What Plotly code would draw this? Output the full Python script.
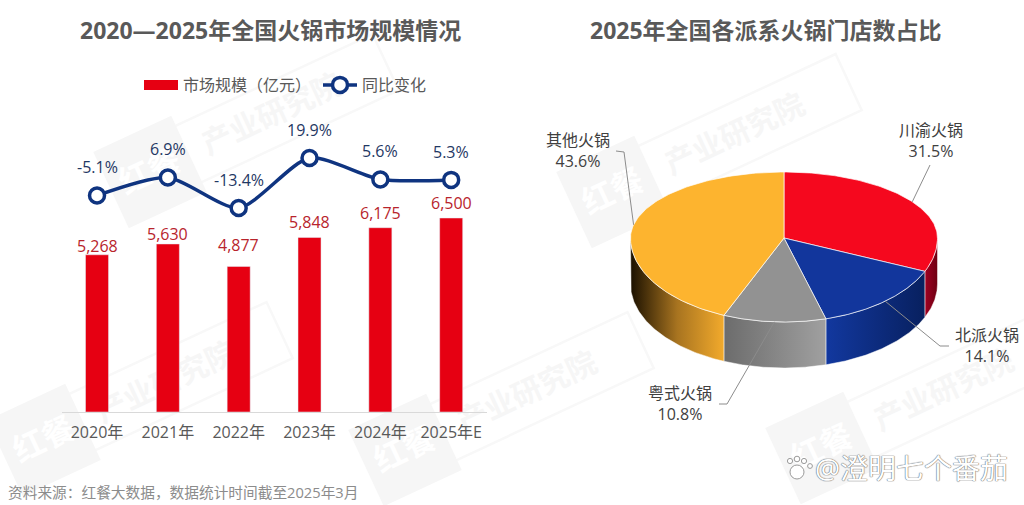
import numpy as np
import plotly.graph_objects as go

# ---------- data ----------
years = ["2020年", "2021年", "2022年", "2023年", "2024年", "2025年E"]
market_size = [5268, 5630, 4877, 5848, 6175, 6500]
yoy_change = [-5.1, 6.9, -13.4, 19.9, 5.6, 5.3]

pie_names = ["川渝火锅", "北派火锅", "粤式火锅", "其他火锅"]
pie_values = [31.5, 14.1, 10.8, 43.6]

title_left = "2020—2025年全国火锅市场规模情况"
title_right = "2025年全国各派系火锅门店数占比"
source_note = "资料来源：红餐大数据，数据统计时间截至2025年3月"

# ---------- style / layout ----------
W, H = 1024, 505
FONT = "Open Sans, Noto Sans CJK SC, sans-serif"
RED, NAVY = "#E60012", "#0F3480"
GREY_TXT = "#595959"
top_colors = ["#F5081E", "#12369C", "#929292", "#FDB42F"]
wall_scales = [
    [[0, "#A00022"], [1, "#6E0012"]],
    [[0, "#12389F"], [1, "#08205F"]],
    [[0, "#6C6C6C"], [1, "#A0A0A0"]],
    [[0, "#1A1000"], [0.5, "#A87420"], [1, "#F2AA2C"]],
]
CX, CY, RX, RY_UP, RY_DOWN, DEPTH = 784, 238, 153.5, 66, 84, 46
bar_label_gaps = [9, 10, 21, 15, 15, 15]


def px(x):
    return x / W


def py(y):
    return 1 - y / H


fig = go.Figure()

# ---------- left chart ----------
# legend entry drawn as a wide red band, as in the reference's legend
fig.add_trace(go.Scatter(
    x=[None], y=[None], name="市场规模（亿元）", mode="lines",
    line=dict(color=RED, width=12), hoverinfo="skip",
))
fig.add_trace(go.Bar(
    x=years, y=market_size, name="市场规模（亿元）", marker_color=RED, showlegend=False,
    width=0.325, hoverinfo="skip",
))
fig.add_trace(go.Scatter(
    x=years, y=yoy_change, yaxis="y2", name="同比变化", mode="lines+markers",
    line=dict(color=NAVY, width=3.5, shape="spline", smoothing=0.7),
    marker=dict(size=15, color="white", line=dict(color=NAVY, width=3.5)),
    hoverinfo="skip",
))

# ---------- 3-D looking pie, computed from pie_values ----------


def arc(a0, a1, n=80):
    a = np.radians(np.linspace(a0, a1, n))
    c = np.cos(a)
    return CX + RX * np.sin(a), CY - np.where(c > 0, RY_UP, RY_DOWN) * c


edges = np.concatenate([[0], np.cumsum(pie_values) / sum(pie_values) * 360])
for i in range(len(pie_values)):
    a0, a1 = max(edges[i], 90), min(edges[i + 1], 270)
    if a1 > a0:
        xs, ys = arc(a0, a1)
        fig.add_trace(go.Scatter(
            x=np.r_[xs, xs[::-1], xs[0]], y=np.r_[ys, ys[::-1] + DEPTH, ys[0]],
            xaxis="x3", yaxis="y3", mode="lines", fill="toself",
            line=dict(color="rgba(255,255,255,0.7)", width=0.7),
            fillgradient=dict(type="horizontal", colorscale=wall_scales[i]),
            showlegend=False, hoverinfo="skip",
        ))
for i, name in enumerate(pie_names):
    xs, ys = arc(edges[i], edges[i + 1], 120)
    fig.add_trace(go.Scatter(
        x=np.r_[CX, xs, CX], y=np.r_[CY, ys, CY], xaxis="x3", yaxis="y3",
        mode="lines", fill="toself", fillcolor=top_colors[i], name=name,
        line=dict(color="rgba(255,255,255,0.85)", width=0.8),
        showlegend=False, hoverinfo="skip",
    ))

# leader lines: from each slice's middle to its label
leader_tails = [[(930, 165)], [(940, 346), (949, 346)], [(727, 404), (719, 404)], [(624, 152), (616, 151)]]
label_centers = [(931, 140), (987, 345), (680, 403.5), (578, 150)]
for i, name in enumerate(pie_names):
    mx, my = arc((edges[i] + edges[i + 1]) / 2, (edges[i] + edges[i + 1]) / 2, 1)
    tx, ty = zip(*leader_tails[i])
    fig.add_trace(go.Scatter(
        x=[mx[0], *tx], y=[my[0], *ty], xaxis="x3", yaxis="y3", mode="lines",
        line=dict(color="#8C8C8C", width=1), showlegend=False, hoverinfo="skip",
    ))

# ---------- annotations ----------
annotations = [
    dict(text=f"<b>{title_left}</b>", x=px(270), y=py(30), xref="paper", yref="paper", showarrow=False,
         xanchor="center", yanchor="middle", font=dict(size=23, color=GREY_TXT, family=FONT)),
    dict(text=f"<b>{title_right}</b>", x=px(766), y=py(30), xref="paper", yref="paper", showarrow=False,
         xanchor="center", yanchor="middle", font=dict(size=23, color=GREY_TXT, family=FONT)),
    dict(text=source_note, x=px(6), y=py(492), xref="paper", yref="paper", showarrow=False,
         xanchor="left", yanchor="middle", font=dict(size=14.7, color="#8C8C8C", family=FONT)),
]
for yr, v, gap in zip(years, market_size, bar_label_gaps):
    annotations.append(dict(text=f"{v:,}", x=yr, y=v, xref="x", yref="y", yshift=gap,
                            showarrow=False, yanchor="middle",
                            font=dict(size=16, color="#B8242C", family=FONT)))
for yr, v in zip(years, yoy_change):
    annotations.append(dict(text=f"{v:.1f}%", x=yr, y=v, xref="x", yref="y2", yshift=28,
                            showarrow=False, yanchor="middle",
                            font=dict(size=16, color="#1F3864", family=FONT)))
for name, v, (lx, ly) in zip(pie_names, pie_values, label_centers):
    annotations.append(dict(text=f"{name}<br>{v}%", x=lx, y=ly, xref="x3", yref="y3", showarrow=False,
                            font=dict(size=16, color="#404040", family=FONT)))
annotations.append(dict(text="@澄明七个番茄", x=px(813), y=py(468), xref="paper", yref="paper", xanchor="left",
                        yanchor="middle", showarrow=False,
                        font=dict(size=28, color="#FFFFFF", family=FONT,
                                  shadow="0 0 1px #777, 0 0 1px #777, 0 0 1px #777")))


# ---------- faint background stamps ----------
def rotated(cx, cy, w, h, deg=-25):
    t = np.radians(deg)
    pts = [(-w / 2, -h / 2), (w / 2, -h / 2), (w / 2, h / 2), (-w / 2, h / 2)]
    return "M" + " L".join(
        f"{px(cx + a * np.cos(t) - b * np.sin(t)):.4f},{py(cy + a * np.sin(t) + b * np.cos(t)):.4f}" for a, b in pts
    ) + " Z"


stamp_anchors = [(150, 172), (44, 440), (405, 450), (613, 192), (822, 448)]
shapes = []
for sx, sy in stamp_anchors:
    t = np.radians(-25)
    bx, by = sx + 135 * np.cos(t), sy + 135 * np.sin(t)
    shapes.append(dict(type="path", path=rotated(bx, by, 250, 62), xref="paper", yref="paper", layer="below",
                       fillcolor="rgba(0,0,0,0)", line=dict(color="#F8F8F8", width=2.5),
                       label=dict(text="<b>产业研究院</b>", textangle=-25, textposition="middle center",
                                  font=dict(size=30, color="#F6F6F6", family=FONT))))
    shapes.append(dict(type="path", path=rotated(sx, sy, 86, 84), xref="paper", yref="paper", layer="below",
                       fillcolor="#F6F6F6", line=dict(width=0),
                       label=dict(text="<b>红餐</b>", textangle=-25, textposition="middle center",
                                  font=dict(size=32, color="#FFFFFF", family=FONT))))

# small paw mark beside the signature
for (qx, qy, r) in [(790, 461, 2.6), (797, 459, 2.8), (804, 461, 2.6), (810, 466, 2.4), (797, 472, 7)]:
    shapes.append(dict(type="circle", xref="paper", yref="paper", layer="above",
                       x0=px(qx - r), x1=px(qx + r), y0=py(qy - r), y1=py(qy + r),
                       fillcolor="#FFFFFF", line=dict(color="#9A9A9A", width=1)))

BASE, TOP = 412, 100
bar_scale = 194 / 6500
line_scale = 1.5
fig.update_layout(
    width=W, height=H, margin=dict(l=0, r=0, t=0, b=0), autosize=False,
    paper_bgcolor="white", plot_bgcolor="rgba(0,0,0,0)", barmode="overlay",
    font=dict(family=FONT, color=GREY_TXT),
    showlegend=True,
    legend=dict(orientation="h", x=px(139), y=py(68), xanchor="left", yanchor="top",
                bgcolor="rgba(0,0,0,0)", font=dict(size=16, color=GREY_TXT, family=FONT),
                itemwidth=34, traceorder="normal", entrywidth=130, entrywidthmode="pixels"),
    xaxis=dict(domain=[px(61.6), px(486.6)], range=[-0.5, 5.5], type="category", showgrid=False, zeroline=False,
               showline=True, linecolor="#D9D9D9", linewidth=1, ticks="", ticklabelstandoff=6,
               tickfont=dict(size=16, color=GREY_TXT, family=FONT), fixedrange=True),
    yaxis=dict(domain=[py(BASE), py(TOP)], range=[0, (BASE - TOP) / bar_scale], visible=False, fixedrange=True),
    yaxis2=dict(domain=[py(BASE), py(TOP)], overlaying="y", visible=False, fixedrange=True,
                range=[19.9 - (BASE - 158) / line_scale, 19.9 + (158 - TOP) / line_scale]),
    xaxis3=dict(domain=[0.5, 1], range=[W / 2, W], visible=False, anchor="y3", fixedrange=True),
    yaxis3=dict(domain=[0, 1], range=[H, 0], visible=False, anchor="x3", fixedrange=True),
    annotations=annotations, shapes=shapes,
)

fig.write_html("out.html", config=dict(displayModeBar=False),
               post_script="document.body.style.margin='0';document.body.style.overflow='hidden';")
